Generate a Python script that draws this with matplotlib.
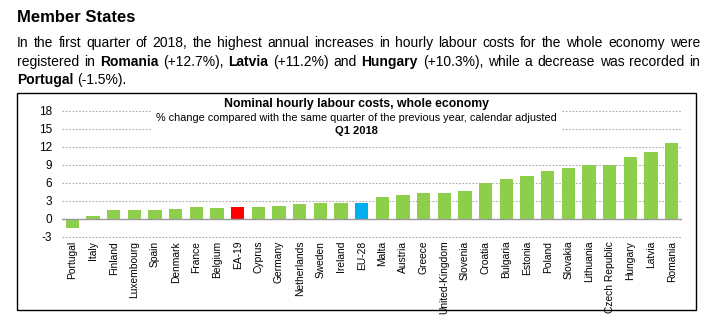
import matplotlib
matplotlib.use("Agg")
import matplotlib.pyplot as plt
from matplotlib.patches import Rectangle

plt.rcParams['font.family'] = ['Liberation Sans', 'DejaVu Sans']

countries = ["Portugal", "Italy", "Finland", "Luxembourg", "Spain", "Denmark", "France",
             "Belgium", "EA-19", "Cyprus", "Germany", "Netherlands", "Sweden", "Ireland",
             "EU-28", "Malta", "Austria", "Greece", "United-Kingdom", "Slovenia", "Croatia",
             "Bulgaria", "Estonia", "Poland", "Slovakia", "Lithuania", "Czech Republic",
             "Hungary", "Latvia", "Romania"]
changes = [-1.5, 0.4, 1.4, 1.4, 1.4, 1.6, 1.9, 1.8, 2.0, 2.0, 2.2, 2.4, 2.6, 2.7,
           2.7, 3.7, 4.0, 4.3, 4.3, 4.6, 6.0, 6.7, 7.1, 7.9, 8.4, 8.9, 8.9,
           10.3, 11.2, 12.7]
yticks = [-3, 0, 3, 6, 9, 12, 15, 18]

GREEN = "#8DCF4A"
bar_colors = [{"EA-19": "#FF0000", "EU-28": "#00AEEF"}.get(c, GREEN) for c in countries]

W, H = 717, 336
fig = plt.figure(figsize=(W / 100, H / 100), dpi=100)

# heading and justified paragraph
fig.text(17 / W, 1 - 17 / H, "Member States", fontsize=12, fontweight="bold",
         va="center", ha="left")

lines = [
    [("In the first quarter of 2018, the highest annual increases in hourly labour costs for the whole economy were", False)],
    [("registered in", False), ("Romania", True), ("(+12.7%),", False), ("Latvia", True),
     ("(+11.2%) and", False), ("Hungary", True), ("(+10.3%), while a decrease was recorded in", False)],
    [("Portugal", True), ("(-1.5%).", False)],
]
line_y = [43, 62, 80]
x0, x1 = 17, 700
renderer = fig.canvas.get_renderer()
for li, (segs, yy) in enumerate(zip(lines, line_y)):
    words = []
    for s, b in segs:
        for w in s.split(" "):
            words.append((w, b))
    texts = [fig.text(0, 1 - yy / H, w, fontsize=10, fontweight="bold" if b else "normal",
                      va="center", ha="left") for w, b in words]
    widths = [t.get_window_extent(renderer).width for t in texts]
    if li < 2:
        gap = (x1 - x0 - sum(widths)) / (len(words) - 1)
    else:
        gap = 3.5
    x = x0
    for t, wd in zip(texts, widths):
        t.set_x(x / W)
        x += wd + gap

# frame around the chart
fig.patches.append(Rectangle((17 / W, 1 - 310 / H), (696 - 17) / W, (310 - 93) / H,
                             transform=fig.transFigure, fill=False, edgecolor="black",
                             linewidth=1.0))

ax = fig.add_axes([62 / W, 1 - 236.7 / H, (682 - 62) / W, (236.7 - 111) / H])
xs = list(range(len(countries)))
ax.bar(xs, changes, width=0.66, color=bar_colors, zorder=3)
ax.set_xlim(-0.5, len(countries) - 0.5)
ax.set_ylim(-3, 18)
ax.set_yticks(yticks)
ax.set_yticklabels([str(v) for v in yticks], fontsize=8.5)
ax.set_xticks(xs)
ax.set_xticklabels(countries, rotation=90, fontsize=7.4)
ax.tick_params(length=0, pad=3, axis="x")
ax.tick_params(length=0, pad=7, axis="y")
for v in yticks:
    if v != 0:
        ax.axhline(v, color="#AAAAAA", linewidth=0.8, linestyle=(0, (1.5, 1.5)), zorder=1,
                   clip_on=False)
ax.axhline(0, color="#999999", linewidth=1.0, zorder=4)
for s in ax.spines.values():
    s.set_visible(False)
ax.patch.set_alpha(0)

# chart titles over a white band
fig.patches.append(Rectangle((152 / W, 1 - 140 / H), (562 - 152) / W, 42 / H,
                             transform=fig.transFigure, facecolor="white",
                             edgecolor="none", zorder=5))
fig.text(356 / W, 1 - 104 / H, "Nominal hourly labour costs, whole economy", fontsize=8.8,
         fontweight="bold", ha="center", va="center", zorder=6)
fig.text(356 / W, 1 - 118 / H,
         "% change compared with the same quarter of the previous year, calendar adjusted",
         fontsize=7.8, ha="center", va="center", zorder=6)
fig.text(356 / W, 1 - 131 / H, "Q1 2018", fontsize=8, fontweight="bold",
         ha="center", va="center", zorder=6)

fig.savefig("out.png", dpi=100)
